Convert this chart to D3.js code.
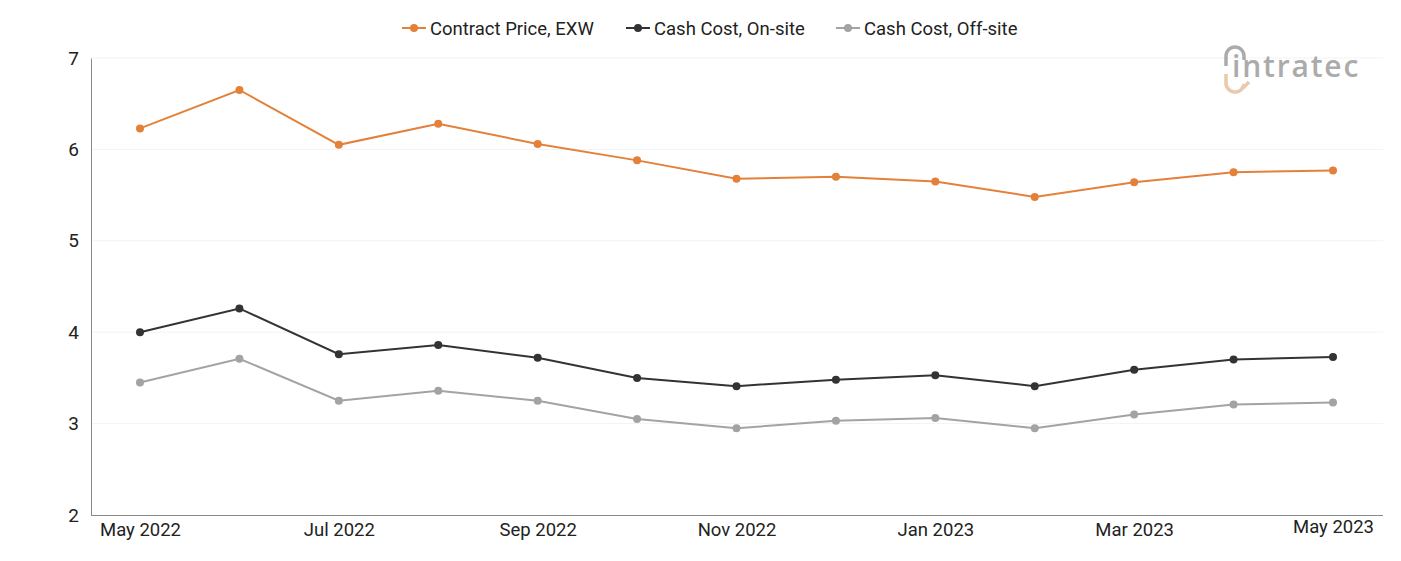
<!DOCTYPE html>
<html>
<head>
<meta charset="utf-8">
<script src="https://cdn.jsdelivr.net/npm/d3@7"></script>
<style>
  body { margin: 0; background: #fff; }
  svg { font-family: Roboto, 'Noto Sans', sans-serif; }
</style>
</head>
<body>
<svg id="chart" width="1401" height="561"></svg>
<script>
/* global d3 */

let months = ['May 2022', 'Jun 2022', 'Jul 2022', 'Aug 2022', 'Sep 2022', 'Oct 2022', 'Nov 2022',
  'Dec 2022', 'Jan 2023', 'Feb 2023', 'Mar 2023', 'Apr 2023', 'May 2023']
let contractPrice = [6.23, 6.65, 6.05, 6.28, 6.06, 5.88, 5.68, 5.70, 5.65, 5.48, 5.64, 5.75, 5.77]
let cashOnSite = [4.00, 4.26, 3.76, 3.86, 3.72, 3.50, 3.41, 3.48, 3.53, 3.41, 3.59, 3.70, 3.73]
let cashOffSite = [3.45, 3.71, 3.25, 3.36, 3.25, 3.05, 2.95, 3.03, 3.06, 2.95, 3.10, 3.21, 3.23]
let xTicks = ['May 2022', 'Jul 2022', 'Sep 2022', 'Nov 2022', 'Jan 2023', 'Mar 2023', 'May 2023']
let yTicks = [2, 3, 4, 5, 6, 7]
let seriesNames = ['Contract Price, EXW', 'Cash Cost, On-site', 'Cash Cost, Off-site']
let seriesColors = ['#e3813a', '#333333', '#a3a3a3']

let series = [contractPrice, cashOnSite, cashOffSite]

let svg = d3.select('#chart')
let dim = {left: 91, right: 1383, top: 58, bottom: 515}

let x = d3.scalePoint()
  .domain(months)
  .range([140, 1333])
let y = d3.scaleLinear()
  .domain([2, 7])
  .range([dim.bottom, dim.top])

// faint grid
svg.append('g')
  .selectAll('line')
  .data(yTicks.slice(1))
  .join('line')
  .attr('x1', dim.left)
  .attr('x2', dim.right)
  .attr('y1', d => y(d))
  .attr('y2', d => y(d))
  .attr('stroke', '#f3f3f3')
  .attr('stroke-width', 1)

// y axis
let yAxis = svg.append('g')
  .attr('transform', 'translate(' + dim.left + ',0)')
  .call(d3.axisLeft(y).tickValues(yTicks).tickSize(0).tickPadding(12).tickFormat(d3.format('d')))
yAxis.select('.domain').attr('stroke', '#8a8a8a')
yAxis.selectAll('text')
  .style('font-size', '19px')
  .attr('fill', '#222')
  .attr('font-family', 'Roboto, sans-serif')

// x axis
let xAxis = svg.append('g')
  .attr('transform', 'translate(0,' + dim.bottom + ')')
  .call(d3.axisBottom(x)
    .tickValues(xTicks)
    .tickSize(0)
    .tickPadding(8))
xAxis.select('.domain')
  .attr('d', 'M' + dim.left + ',0.5H' + dim.right)
  .attr('stroke', '#8a8a8a')
xAxis.selectAll('text')
  .style('font-size', '18.5px')
  .attr('fill', '#222')
  .attr('font-family', 'Roboto, sans-serif')
xAxis.selectAll('.tick').filter((d, i, n) => i === n.length - 1)
  .select('text').attr('dy', '0.55em')

// clipped y axis title (only a sliver shows in the original)
svg.append('clipPath').attr('id', 'ytclip')
  .append('rect').attr('x', 30).attr('y', 225).attr('width', 4).attr('height', 125)
svg.append('text')
  .attr('clip-path', 'url(#ytclip)')
  .attr('transform', 'translate(43,290) rotate(-90)')
  .attr('text-anchor', 'middle')
  .style('font-size', '16px')
  .attr('fill', '#111')
  .text('USD / kg, FOB')

// lines and points
let line = d3.line()
  .x((d, i) => x(months[i]))
  .y(d => y(d))

series.forEach(function (vals, s) {
  let g = svg.append('g')
  g.append('path')
    .datum(vals)
    .attr('d', line)
    .attr('fill', 'none')
    .attr('stroke', seriesColors[s])
    .attr('stroke-width', 2)
  g.selectAll('circle')
    .data(vals)
    .join('circle')
    .attr('cx', (d, i) => x(months[i]))
    .attr('cy', d => y(d))
    .attr('r', 4)
    .attr('fill', seriesColors[s])
})

// legend
let legendX = [402, 626, 836]
let legend = svg.append('g')
seriesNames.forEach(function (name, s) {
  let g = legend.append('g').attr('transform', 'translate(' + legendX[s] + ',28)')
  g.append('line')
    .attr('x1', 0).attr('x2', 24)
    .attr('stroke', seriesColors[s])
    .attr('stroke-width', 2)
  g.append('circle')
    .attr('cx', 12).attr('r', 4)
    .attr('fill', seriesColors[s])
  g.append('text')
    .attr('x', 28)
    .attr('y', 6.5)
    .style('font-size', '18.5px')
    .attr('fill', '#222')
    .text(name)
})

// watermark logo
let logo = svg.append('g').attr('opacity', 0.75)
logo.append('path')
  .attr('d', 'M1226,66 V56 A9,9 0 0 1 1244,56 V60')
  .attr('fill', 'none')
  .attr('stroke', '#8f8f8f')
  .attr('stroke-width', 3.5)
logo.append('path')
  .attr('d', 'M1226,74 V82 A9,9 0 0 0 1244,84 M1249,82 l-6,6')
  .attr('fill', 'none')
  .attr('stroke', '#e2b993')
  .attr('stroke-width', 3.5)
logo.append('text')
  .attr('x', 1232)
  .attr('y', 77)
  .style('font-size', '30px')
  .style('font-weight', '600')
  .style('letter-spacing', '1.8px')
  .attr('fill', '#8f8f8f')
  .attr('font-family', "'Open Sans', sans-serif")
  .text('intratec')
</script>
</body>
</html>
